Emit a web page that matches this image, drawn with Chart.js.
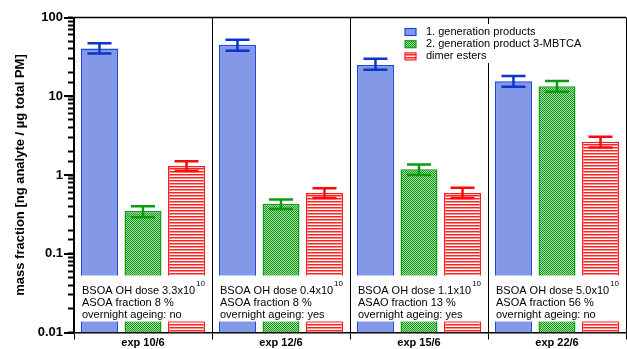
<!DOCTYPE html>
<html>
<head>
<meta charset="utf-8">
<script src="https://cdn.jsdelivr.net/npm/chart.js@4"></script>
<style>html,body{margin:0;padding:0;background:#fff}</style>
</head>
<body>
<canvas id="chart" width="627" height="349"></canvas>
<script>
"use strict";

const experiments = ['exp 10/6', 'exp 12/6', 'exp 15/6', 'exp 22/6'];
const firstGen = [40.3, 45.0, 25.0, 15.5];
const firstGenLow = [34.8, 37.7, 21.7, 13.2];
const firstGenHigh = [47.2, 52.0, 30.0, 18.1];
const mbtca = [0.35, 0.43, 1.18, 13.4];
const mbtcaLow = [0.29, 0.37, 1.0, 11.4];
const mbtcaHigh = [0.40, 0.49, 1.36, 15.6];
const dimers = [1.30, 0.59, 0.59, 2.64];
const dimersLow = [1.12, 0.51, 0.51, 2.24];
const dimersHigh = [1.50, 0.68, 0.69, 3.06];
const ohDose = ['BSOA OH dose 3.3x10', 'BSOA OH dose 0.4x10', 'BSOA OH dose 1.1x10', 'BSOA OH dose 5.0x10'];
const asoaFraction = ['ASOA fraction 8 %', 'ASOA fraction 8 %', 'ASAO fraction 13 %', 'ASOA fraction 56 %'];
const ageing = ['overnight ageing: no', 'overnight ageing: yes', 'overnight ageing: yes', 'overnight ageing: no'];
const yTickLabels = [0.01, 0.1, 1, 10, 100];

const FONT = "Arial, 'Liberation Sans', sans-serif";
const ctx = document.getElementById('chart');
const g = ctx.getContext('2d');

function makePattern(w, h, paint)
{
    const c = document.createElement('canvas');
    c.width = w;
    c.height = h;
    paint(c.getContext('2d'));
    return g.createPattern(c, 'repeat');
}

const greenFill = makePattern(2, 2, p => {
    p.fillStyle = '#a2e2a2';
    p.fillRect(0, 0, 2, 2);
    p.fillStyle = '#15921a';
    p.fillRect(0, 0, 1, 1);
    p.fillRect(1, 1, 1, 1);
});

const redFill = makePattern(3, 3, p => {
    p.fillStyle = '#ffffff';
    p.fillRect(0, 0, 3, 3);
    p.fillStyle = '#ff2020';
    p.fillRect(0, 0, 3, 1);
    p.fillStyle = '#ff9090';
    p.fillRect(0, 1, 3, 1);
});

const errors = [
    {low: firstGenLow, high: firstGenHigh, color: '#0a35c8'},
    {low: mbtcaLow, high: mbtcaHigh, color: '#0e9a0e'},
    {low: dimersLow, high: dimersHigh, color: '#ff0a0a'}
];

function isDecade(v)
{
    return yTickLabels.some(t => Math.abs(t - v) / t < 1e-6);
}

const errorBars = {
    id: 'errorBars',
    afterDatasetsDraw(chart) {
        const c = chart.ctx;
        const y = chart.scales.y;
        c.save();
        errors.forEach((e, i) => {
            const meta = chart.getDatasetMeta(i);
            c.strokeStyle = e.color;
            c.lineWidth = 2.5;
            meta.data.forEach((bar, j) => {
                const yl = y.getPixelForValue(e.low[j]);
                const yh = y.getPixelForValue(e.high[j]);
                c.beginPath();
                c.moveTo(bar.x, yl);
                c.lineTo(bar.x, yh);
                c.moveTo(bar.x - 12, yl);
                c.lineTo(bar.x + 12, yl);
                c.moveTo(bar.x - 12, yh);
                c.lineTo(bar.x + 12, yh);
                c.stroke();
            });
        });
        c.restore();
    }
};

const notes = {
    id: 'notes',
    afterDatasetsDraw(chart) {
        const c = chart.ctx;
        const x = chart.scales.x;
        const area = chart.chartArea;
        const w = area.width / experiments.length;
        c.save();
        experiments.forEach((name, j) => {
            const left = x.getPixelForValue(j) - w / 2;
            c.fillStyle = '#ffffff';
            c.fillRect(left + 1, area.bottom - 57, w - 2, 46);
            c.fillStyle = '#000';
            c.textBaseline = 'middle';
            c.textAlign = 'left';
            c.font = '11px ' + FONT;
            c.fillText(ohDose[j], left + 8, area.bottom - 42);
            c.fillText(asoaFraction[j], left + 8, area.bottom - 30);
            c.fillText(ageing[j], left + 8, area.bottom - 18);
            const tw = c.measureText(ohDose[j]).width;
            c.font = '8px ' + FONT;
            c.fillText('10', left + 9 + tw, area.bottom - 49);
        });
        // top frame line
        c.strokeStyle = '#000';
        c.lineWidth = 1.5;
        c.beginPath();
        c.moveTo(area.left, area.top);
        c.lineTo(area.right, area.top);
        c.stroke();
        c.restore();
    }
};

const legendBox = {
    id: 'legendBox',
    afterDraw(chart) {
        const c = chart.ctx;
        c.save();
        c.fillStyle = '#fff';
        c.fillRect(400, 24, 200, 39);
        chart.data.datasets.forEach((ds, i) => {
            const yy = 32 + i * 12.2;
            c.fillStyle = ds.backgroundColor;
            c.fillRect(405, yy - 3.5, 11, 7);
            c.strokeStyle = ds.borderColor;
            c.lineWidth = 1.2;
            c.strokeRect(405, yy - 3.5, 11, 7);
            c.fillStyle = '#000';
            c.font = '11px ' + FONT;
            c.textBaseline = 'middle';
            c.fillText(ds.label, 426, yy);
        });
        c.restore();
    }
};

// longer marks for the decades
const decadeMarks = {
    id: 'decadeMarks',
    afterDraw(chart) {
        const c = chart.ctx;
        const y = chart.scales.y;
        const ax = chart.chartArea.left;
        c.save();
        c.strokeStyle = '#000';
        c.lineWidth = 2;
        yTickLabels.forEach(v => {
            const py = Math.round(y.getPixelForValue(v));
            c.beginPath();
            c.moveTo(ax - 10, py);
            c.lineTo(ax, py);
            c.stroke();
        });
        c.restore();
    }
};

new Chart(ctx, {
    type: 'bar',
    data: {
        labels: experiments,
        datasets: [{
            label: '1. generation products',
            data: firstGen,
            backgroundColor: '#8399e8',
            borderColor: '#1e46d8',
            borderWidth: 1.5
        }, {
            label: '2. generation product 3-MBTCA',
            data: mbtca,
            backgroundColor: greenFill,
            borderColor: '#12a012',
            borderWidth: 1.5
        }, {
            label: 'dimer esters',
            data: dimers,
            backgroundColor: redFill,
            borderColor: '#ff1a1a',
            borderWidth: 1.5
        }]
    },
    options: {
        responsive: false,
        animation: false,
        devicePixelRatio: 1,
        categoryPercentage: 0.946,
        barPercentage: 0.85,
        layout: {padding: {left: 0, right: 1, top: 17.5, bottom: 0}},
        plugins: {
            legend: {display: false},
            tooltip: {enabled: false}
        },
        scales: {
            x: {
                grid: {
                    color: '#000',
                    lineWidth: 1,
                    tickLength: 7,
                    offset: true
                },
                border: {display: true, color: '#000', width: 1.5},
                ticks: {
                    color: '#000',
                    padding: -3,
                    font: {family: FONT, size: 11, weight: 'bold'}
                },
                afterFit(scale) { scale.height = 16.5; }
            },
            y: {
                type: 'logarithmic',
                min: 0.01,
                max: 100,
                grid: {
                    display: true,
                    drawOnChartArea: false,
                    drawTicks: true,
                    tickLength: 6,
                    tickWidth: 2,
                    tickColor: '#000'
                },
                border: {display: true, color: '#000', width: 2},
                ticks: {
                    color: '#000',
                    padding: 5,
                    autoSkip: false,
                    font: {family: FONT, size: 13, weight: 'bold'},
                    callback: function(value)
                    {
                        return isDecade(value) ? String(value) : '';
                    }
                },
                title: {
                    display: true,
                    text: 'mass fraction [ng analyte / µg total PM]',
                    color: '#000',
                    padding: {top: 13, bottom: 0},
                    font: {family: FONT, size: 13, weight: 'bold'}
                },
                afterFit(scale) { scale.width = 74; }
            }
        }
    },
    plugins: [errorBars, notes, legendBox, decadeMarks]
});
</script>
</body>
</html>
